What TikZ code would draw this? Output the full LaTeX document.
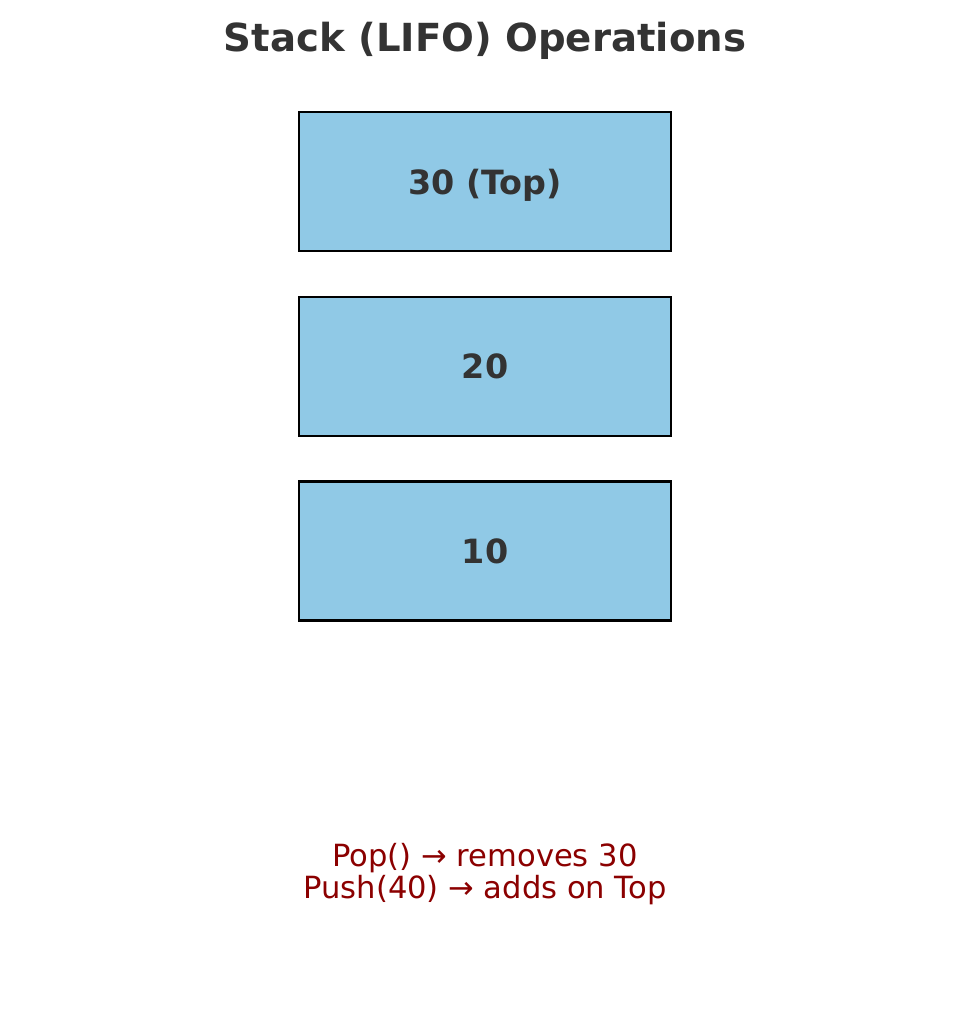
\documentclass[tikz,border=0pt]{standalone}
\usepackage{fontspec}
\setmainfont{DejaVu Sans}
\usetikzlibrary{positioning}
\definecolor{stackblue}{RGB}{144,201,230}
\definecolor{labelgray}{RGB}{51,51,51}
\definecolor{noteread}{RGB}{139,0,0}
\tikzset{
  stackbox/.style={draw=black,line width=1.6pt,fill=stackblue,minimum width=7.44cm,minimum height=2.78cm,
    font=\fontsize{19}{23}\selectfont\bfseries,text=labelgray,text depth=0pt}
}

\begin{document}
\begin{tikzpicture}[x=0.02cm,y=-0.02cm]
        \useasboundingbox (0,0) rectangle (969,1010);
        \node[font=\fontsize{22}{26}\selectfont\bfseries,text=labelgray] (title) at (485,41) {Stack (LIFO) Operations};
        \node[stackbox] (top) at (485,181.5) {30 (Top)};
        \node[stackbox] (mid) at (485,366.5) {20};
        \node[stackbox] (bot) at (485,551) {10};
        \node[font=\fontsize{17.4}{18.7}\selectfont,text=noteread,align=center] (ops) at (485,874)
          {Pop() → removes 30\\Push(40) → adds on Top};
      \end{tikzpicture}
\end{document}
